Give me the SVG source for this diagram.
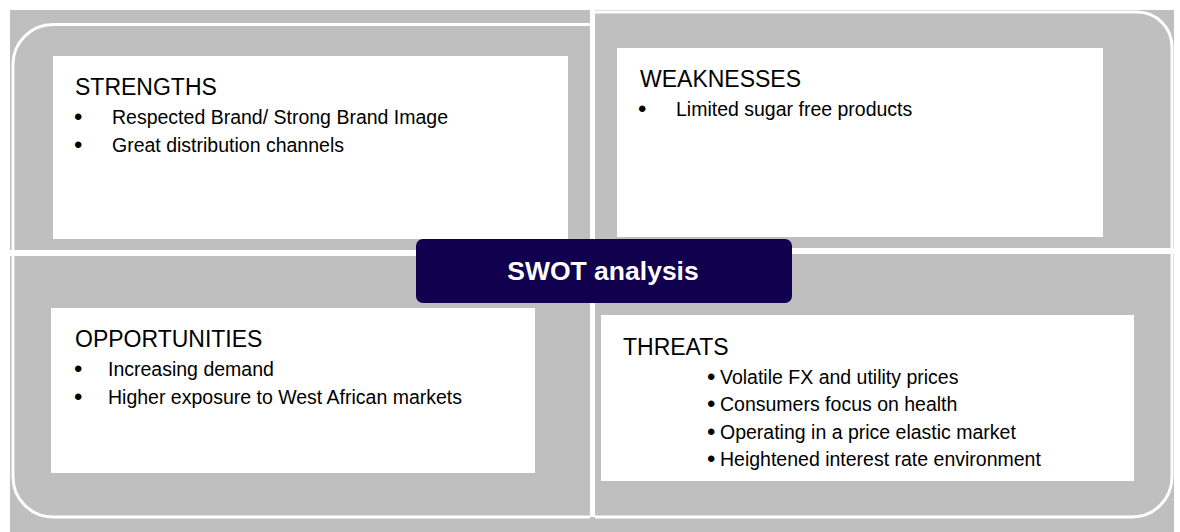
<svg xmlns="http://www.w3.org/2000/svg" width="1180" height="532" viewBox="0 0 1180 532">
  <style>
    .panel { fill: #ffffff; }
    .rim { fill: none; stroke: #ffffff; stroke-width: 3; }
    .gap { fill: #ffffff; }
    .head { font-family: "Liberation Sans", Arial, sans-serif; font-size: 23px; fill: #000000; }
    .item { font-family: "Liberation Sans", Arial, sans-serif; font-size: 19.5px; fill: #000000; }
    .dot { font-family: "Liberation Sans", Arial, sans-serif; font-size: 24px; fill: #000000; }
    .title { font-family: "Liberation Sans", Arial, sans-serif; font-size: 26.5px; font-weight: bold; fill: #ffffff; }
  </style>

  <!-- matrix backdrop: grey field split into four quarters -->
  <g id="matrix">
    <rect x="10" y="10" width="1164" height="522" fill="#bfbfbf"/>
    <rect class="gap" x="590" y="10" width="5" height="507"/>
    <rect class="gap" x="10" y="250" width="580" height="6"/>
    <rect class="gap" x="595" y="248" width="580" height="6"/>
    <!-- rounded outline, one arc piece per quarter -->
    <path class="rim" d="M590,24.5 H53 A40,40 0 0 0 13,64.5 V250"/>
    <path class="rim" d="M595,12 H1137 A35,35 0 0 1 1172,47 V248"/>
    <path class="rim" d="M13,256 V477 A40,40 0 0 0 53,517 H590"/>
    <path class="rim" d="M595,517 H1132 A40,40 0 0 0 1172,477 V254"/>
  </g>

  <g id="strengths">
    <rect class="panel" x="53" y="56" width="515" height="183"/>
    <text class="head" x="75" y="95">STRENGTHS</text>
    <text class="dot" x="74" y="125">•</text>
    <text class="item" x="112" y="124">Respected Brand/ Strong Brand Image</text>
    <text class="dot" x="74" y="153">•</text>
    <text class="item" x="112" y="152">Great distribution channels</text>
  </g>

  <g id="weaknesses">
    <rect class="panel" x="617" y="48" width="486" height="189"/>
    <text class="head" x="640" y="87">WEAKNESSES</text>
    <text class="dot" x="638" y="117">•</text>
    <text class="item" x="676" y="116">Limited sugar free products</text>
  </g>

  <g id="opportunities">
    <rect class="panel" x="51" y="308" width="484" height="165"/>
    <text class="head" x="75" y="347">OPPORTUNITIES</text>
    <text class="dot" x="74" y="377">•</text>
    <text class="item" x="108" y="376">Increasing demand</text>
    <text class="dot" x="74" y="405">•</text>
    <text class="item" x="108" y="404">Higher exposure to West African markets</text>
  </g>

  <g id="threats">
    <rect class="panel" x="601" y="315" width="533" height="166"/>
    <text class="head" x="623" y="355">THREATS</text>
    <text class="dot" x="707" y="385">•</text>
    <text class="item" x="720" y="384">Volatile FX and utility prices</text>
    <text class="dot" x="707" y="412">•</text>
    <text class="item" x="720" y="411">Consumers focus on health</text>
    <text class="dot" x="707" y="440">•</text>
    <text class="item" x="720" y="439">Operating in a price elastic market</text>
    <text class="dot" x="707" y="467">•</text>
    <text class="item" x="720" y="466">Heightened interest rate environment</text>
  </g>

  <g id="swot-title">
    <rect x="416" y="239" width="376" height="64" rx="7" ry="7" fill="#10004e"/>
    <text class="title" x="603" y="280" text-anchor="middle">SWOT analysis</text>
  </g>

  <g id="connectors"/>
</svg>
